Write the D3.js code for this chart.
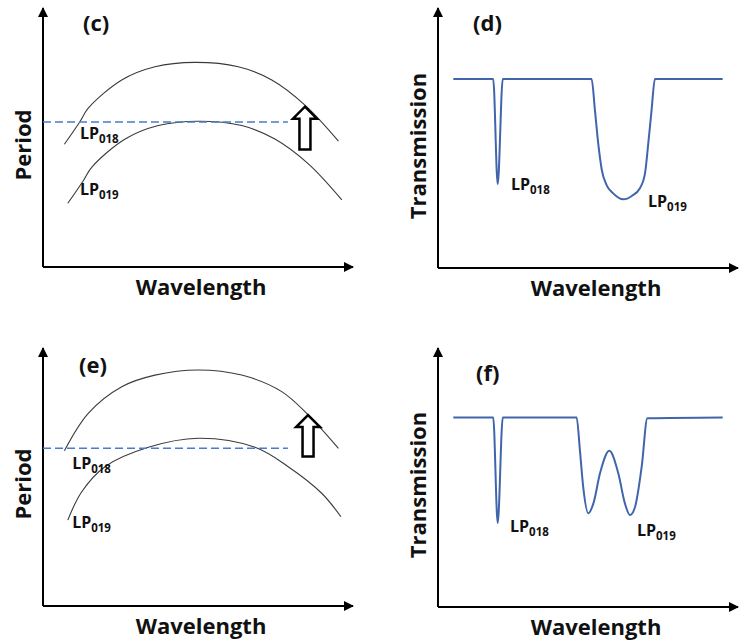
<!DOCTYPE html>
<html lang="en">
<head>
<meta charset="UTF-8">
<title>Phase matching sketches</title>
<script src="https://cdn.jsdelivr.net/npm/d3@7"></script>
<style>
  body { margin: 0; background: #fff; }
  svg { display: block; font-family: "Open Sans", sans-serif; }
  .title { font-size: 22px; font-weight: bold; fill: #111; }
  .lp { font-size: 16px; font-weight: bold; fill: #111; }
</style>
</head>
<body>
<script>
// all values in arbitrary units, 0..10 on both axes

// (c) period vs wavelength
const cUpper = [[0.69,4.74],[1.19,5.61],[1.46,6.13],[2.54,7.22],[3.61,7.73],[4.90,7.90],[6.30,7.73],[7.38,7.22],[8.45,6.25],[9.53,4.86]];
const cLower = [[0.80,2.46],[1.30,3.33],[1.57,3.85],[2.65,4.94],[3.72,5.46],[5.01,5.63],[6.41,5.46],[7.48,4.94],[8.56,3.98],[9.64,2.59]];
const cGrating = [[0,5.60],[7.9,5.60]];
const cShift = [8.45, 4.54, 6.19];          // x, from, to
const cLabels = [["018",1.19,4.94],["019",1.19,2.78]];

// (d) transmission
const dSpectrum = [[0.51,7.27],[1.84,7.27],[1.99,3.23],[2.16,7.27],[5.12,7.27],[5.23,6.08],[5.34,4.80],[5.46,3.77],[5.62,3.19],[5.84,2.87],[6.18,2.64],[6.46,2.77],[6.73,3.07],[6.90,3.64],[7.01,4.80],[7.12,6.08],[7.23,7.27],[9.49,7.27]];
const dLabels = [["018",2.43,3.0],["019",7.0,2.35]];

// (e) period vs wavelength
const eUpper = [[0.69,6.02],[1.46,7.47],[2.54,8.50],[3.61,8.95],[5.01,9.15],[6.41,8.95],[7.70,8.31],[8.56,7.40],[9.53,6.11]];
const eLower = [[0.80,3.33],[1.25,4.43],[2.00,5.40],[3.40,6.15],[5.01,6.50],[6.84,6.15],[7.91,5.40],[8.99,4.37],[9.61,3.46]];
const eGrating = [[0,6.11],[7.9,6.11]];
const eShift = [8.55, 5.79, 7.40];
const eLabels = [["018",0.94,5.31],["019",0.94,3.02]];

// (f) transmission
const fSpectrum = [[0.51,7.32],[1.84,7.32],[1.99,3.24],[2.16,7.32],[4.62,7.32],[4.73,6.06],[4.84,4.64],[5.01,3.62],[5.18,4.00],[5.40,5.16],[5.71,6.03],[6.01,5.16],[6.23,4.00],[6.40,3.55],[6.57,3.87],[6.79,5.42],[6.98,7.29],[9.49,7.32]];
const fLabels = [["018",2.4,2.90],["019",6.63,2.74]];

const W = 739, H = 643;

const svg = d3.select("body").append("svg")
  .attr("width", W)
  .attr("height", H);

const defs = svg.append("defs");
defs.append("marker")
  .attr("id", "tip")
  .attr("viewBox", "0 0 10 10")
  .attr("refX", 9).attr("refY", 5)
  .attr("markerWidth", 5).attr("markerHeight", 5.5)
  .attr("markerUnits", "strokeWidth")
  .attr("orient", "auto")
  .append("path")
  .attr("d", "M0,0 L10,5 L0,10 Z")
  .attr("fill", "#000");

const panels = [
  {tag:"(c)", tagX:40, tagY:31, ytitle:"Period", left:43, right:353, top:8, bottom:267,
   arcs:[cUpper, cLower], grating:cGrating, shift:cShift, labels:cLabels},
  {tag:"(d)", tagX:35, tagY:31, ytitle:"Transmission", left:438, right:738, top:8, bottom:268,
   spectrum:dSpectrum, labels:dLabels},
  {tag:"(e)", tagX:36, tagY:373, ytitle:"Period", left:43, right:353, top:348, bottom:606,
   arcs:[eUpper, eLower], grating:eGrating, shift:eShift, labels:eLabels},
  {tag:"(f)", tagX:38, tagY:381, ytitle:"Transmission", left:438, right:738, top:348, bottom:607,
   spectrum:fSpectrum, labels:fLabels}
];

panels.forEach(p => {
  const x = d3.scaleLinear().domain([0, 10]).range([p.left, p.right]);
  const y = d3.scaleLinear().domain([0, 10]).range([p.bottom, p.top]);
  const g = svg.append("g");

  // axes with arrow heads
  g.append("line")
    .attr("x1", x(0)).attr("y1", y(0))
    .attr("x2", x(0)).attr("y2", y(10))
    .attr("stroke", "#000").attr("stroke-width", 2)
    .attr("marker-end", "url(#tip)");
  g.append("line")
    .attr("x1", x(0)).attr("y1", y(0))
    .attr("x2", x(10)).attr("y2", y(0))
    .attr("stroke", "#000").attr("stroke-width", 2)
    .attr("marker-end", "url(#tip)");

  g.append("text")
    .attr("class", "title")
    .attr("x", p.left + p.tagX)
    .attr("y", p.tagY)
    .text(p.tag);

  g.append("text")
    .attr("class", "title")
    .attr("text-anchor", "middle")
    .attr("dominant-baseline", "central")
    .attr("transform", `translate(${p.left - 21},${p.bottom - 122}) rotate(-90)`)
    .text(p.ytitle);

  g.append("text")
    .attr("class", "title")
    .attr("text-anchor", "middle")
    .attr("x", p.left + 158)
    .attr("y", p.bottom + 27.5)
    .text("Wavelength");

  if (p.arcs) {
    const arc = d3.line()
      .x(d => x(d[0])).y(d => y(d[1]))
      .curve(d3.curveCatmullRom.alpha(0.5));
    g.selectAll("path.arc")
      .data(p.arcs)
      .enter().append("path")
      .attr("class", "arc")
      .attr("d", arc)
      .attr("fill", "none")
      .attr("stroke", "#3a3a3a")
      .attr("stroke-width", 1.1);

    g.append("path")
      .attr("d", d3.line().x(d => x(d[0])).y(d => y(d[1]))(p.grating))
      .attr("fill", "none")
      .attr("stroke", "#4a7bd0")
      .attr("stroke-width", 1.5)
      .attr("stroke-dasharray", "8,4");

    // hollow block arrow
    const ax = x(p.shift[0]), yb = y(p.shift[1]), yt = y(p.shift[2]);
    const hw = 12, sw = 5.5, hh = 12;
    g.append("path")
      .attr("d", `M${ax},${yt} L${ax + hw},${yt + hh} L${ax + sw},${yt + hh} L${ax + sw},${yb}
                  L${ax - sw},${yb} L${ax - sw},${yt + hh} L${ax - hw},${yt + hh} Z`)
      .attr("fill", "#fff")
      .attr("stroke", "#000")
      .attr("stroke-width", 2.5)
      .attr("stroke-linejoin", "miter");
  }

  if (p.spectrum) {
    g.append("path")
      .attr("d", d3.line().x(d => x(d[0])).y(d => y(d[1])).curve(d3.curveMonotoneX)(p.spectrum))
      .attr("fill", "none")
      .attr("stroke", "#4065ac")
      .attr("stroke-width", 2);
  }

  const lab = g.selectAll("text.lp")
    .data(p.labels)
    .enter().append("text")
    .attr("class", "lp")
    .attr("x", d => x(d[1]))
    .attr("y", d => y(d[2]));
  lab.append("tspan").text("LP");
  lab.append("tspan")
    .attr("font-size", 11.5)
    .attr("dy", 4)
    .text(d => d[0]);
});
</script>
</body>
</html>
